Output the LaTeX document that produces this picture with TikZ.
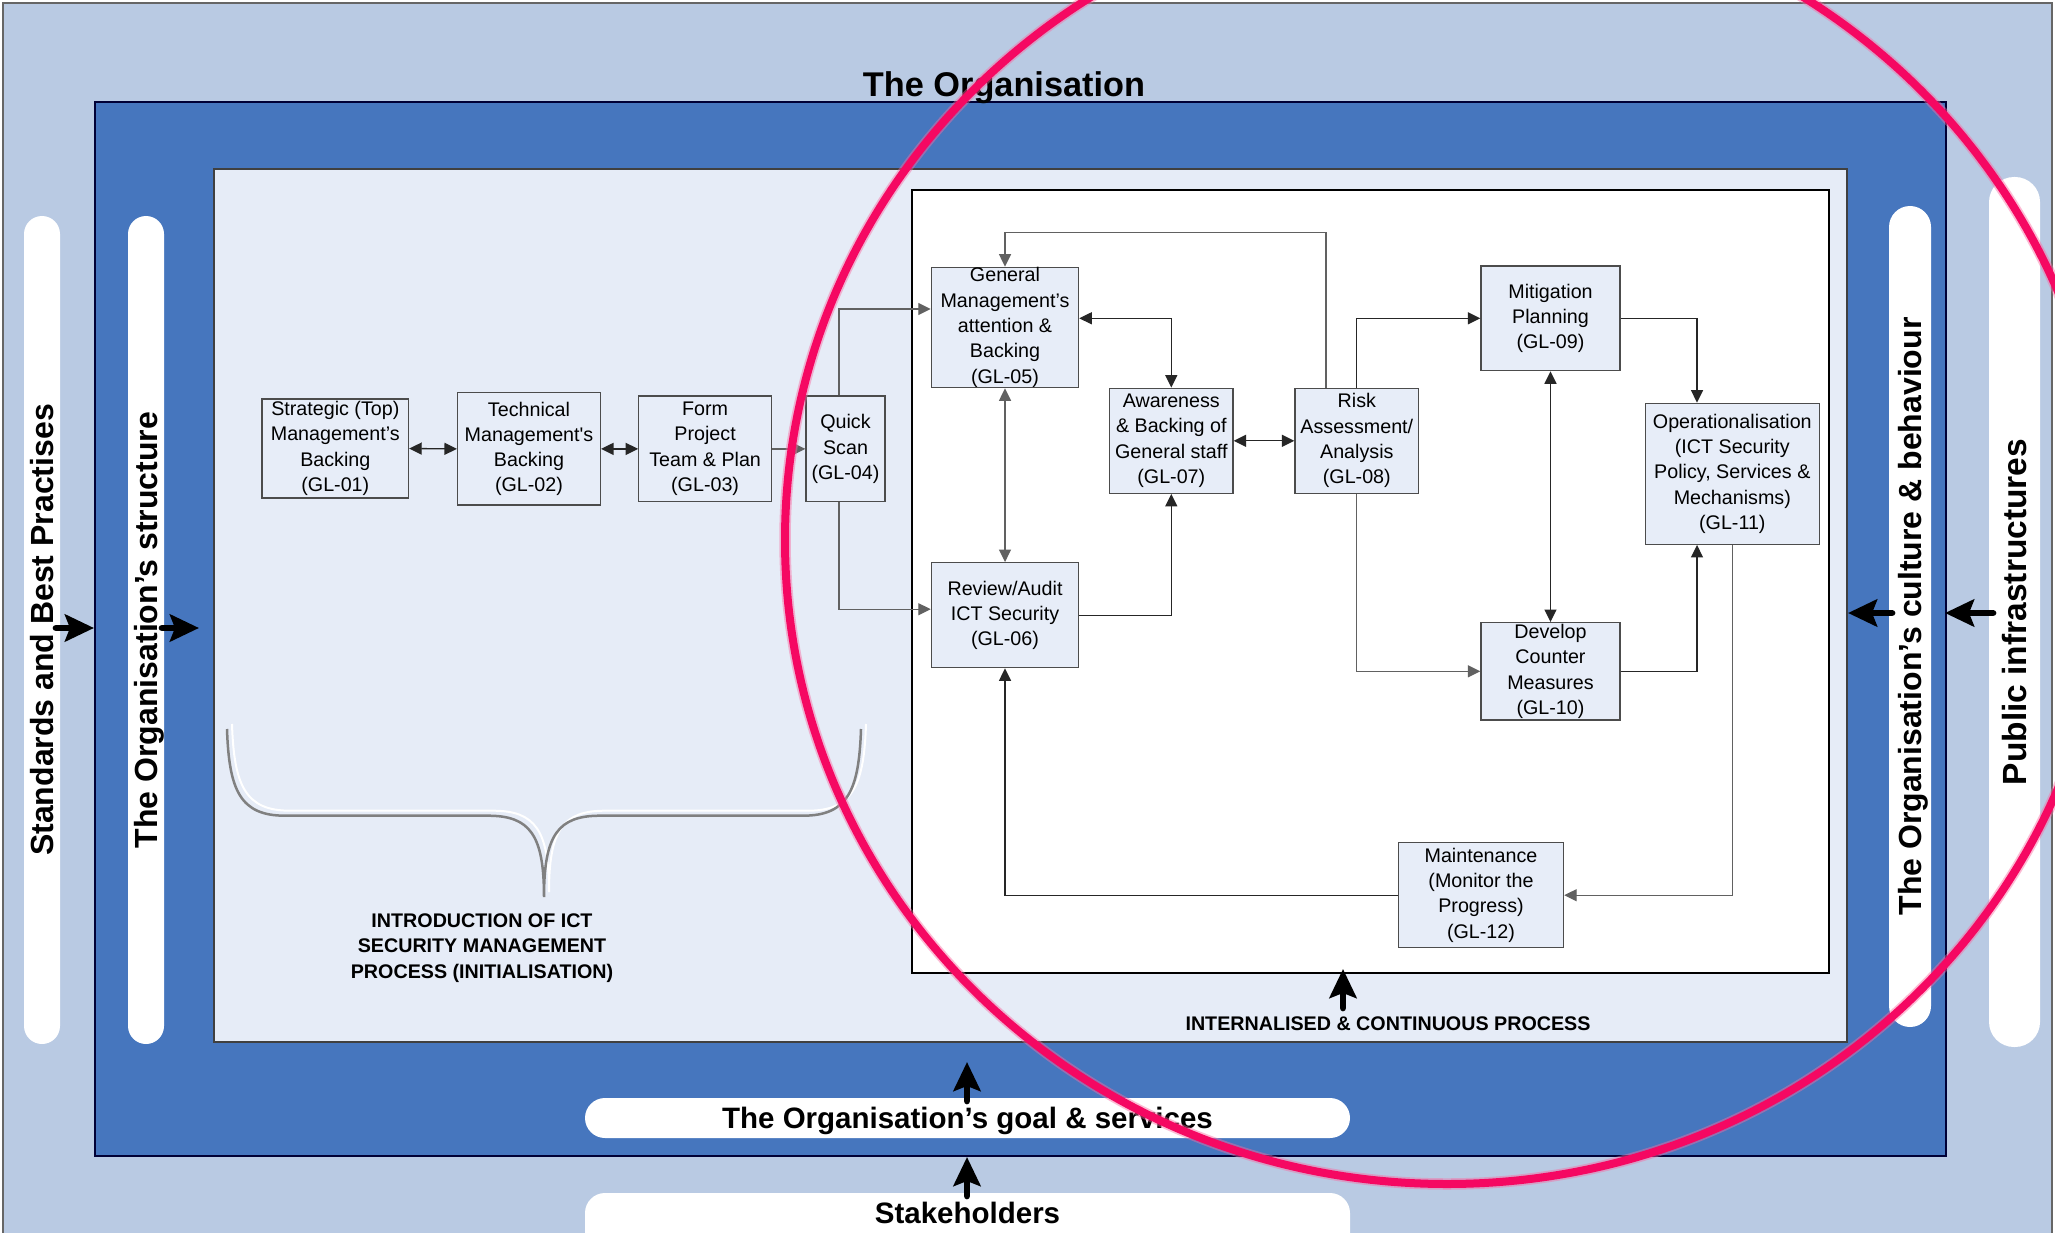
\documentclass[tikz,border=0pt]{standalone}
\usepackage{fontspec}
\setmainfont{Liberation Sans}
\newfontfamily\plainsans{Liberation Sans}
\usetikzlibrary{arrows.meta}

\definecolor{outerblue}{RGB}{185,202,227}
\definecolor{midblue}{RGB}{70,118,190}
\definecolor{paleblue}{RGB}{230,236,247}
\definecolor{boxfill}{RGB}{231,237,248}
\definecolor{ringpink}{RGB}{245,8,98}
\definecolor{bracegray}{RGB}{128,128,128}

\newcommand\gbfont{\fontsize{19.7}{25.3}\selectfont}
\newcommand\lblfont{\fontsize{19.7}{25.2}\selectfont\bfseries}
\newcommand\pillfont{\fontsize{32}{36}\selectfont\bfseries}
\newcommand\hpillfont{\fontsize{29.5}{34}\selectfont\bfseries}
\newcommand\ttlfont{\fontsize{34.3}{40}\selectfont\bfseries}

\begin{document}
\begin{tikzpicture}[x=1pt,y=-1pt,
  gbox/.style={draw=black!70, line width=1.3, fill=boxfill, inner sep=0pt,
    align=center, font=\gbfont},
  conn/.style={line width=1.3, draw=black!85, -{Triangle[length=12.5pt,width=12pt]}},
  biconn/.style={conn, {Triangle[length=12.5pt,width=12pt]}-{Triangle[length=12.5pt,width=12pt]}},
  grayline/.style={draw=black!62},
  bigarr/.style={line width=6.7, line cap=round, -{Stealth[length=29pt,width=27pt,inset=5pt]}},
  vpill/.style={fill=white, inner sep=0pt, rotate=90, font=\pillfont,
    text height=23pt, text depth=0pt},
  hpill/.style={fill=white, inner sep=0pt, rounded corners=20, font=\hpillfont,
    text height=21pt},
]
\useasboundingbox (0,0) rectangle (2055,1233);
\clip (0,0) rectangle (2055,1233);

% nested frames
\fill[white] (0,0) rectangle (2055,1233);
\draw[fill=outerblue, draw=black!60, line width=2] (3,3) rectangle (2052,1245);
\draw[fill=midblue, draw=black!65!blue!60!black, line width=1.5] (95,102) rectangle (1946,1156);
\draw[fill=paleblue, draw=black!75, line width=1.5] (214,169) rectangle (1847,1042);
\draw[fill=white, draw=black, line width=2] (912,190) rectangle (1829,973);

\node[font=\ttlfont, anchor=base] (title) at (1004,97) {The Organisation};

% side and bottom bands
\node[vpill, rounded corners=18, minimum width=828, minimum height=36] (p1) at (42,630) {Standards and Best Practises};
\node[vpill, rounded corners=18, minimum width=828, minimum height=36] (p2) at (146,630) {The Organisation’s structure};
\node[vpill, rounded corners=21, minimum width=821, minimum height=42] (p3) at (1910,616.5) {The Organisation’s culture \& behaviour};
\node[vpill, rounded corners=25, minimum width=870, minimum height=51, font=\fontsize{33.5}{38}\selectfont\bfseries] (p4) at (2014.5,612) {Public infrastructures};
\node[hpill, minimum width=765, minimum height=40, text depth=0pt] (goal) at (967.5,1118) {The Organisation’s goal \& services};
\node[hpill, minimum width=765, minimum height=60, text depth=20pt] (stake) at (967.5,1223) {Stakeholders};

% initialisation steps
\node[gbox, minimum width=146.5, minimum height=99] (g01) at (335.3,448.5) {Strategic (Top)\\Management’s\\Backing\\(GL-01)};
\node[gbox, minimum width=142.8, minimum height=112.3] (g02) at (529,448.9) {Technical\\Management{\plainsans '}s\\Backing\\(GL-02)};
\node[gbox, minimum width=132.6, minimum height=105.7] (g03) at (705.1,448.9) {Form\\Project\\Team \& Plan\\(GL-03)};
\node[gbox, minimum width=79, minimum height=105.7] (q04) at (845.5,448.9) {Quick\\Scan\\(GL-04)};

% continuous process steps
\node[gbox, minimum width=147.2, minimum height=120.4] (g05) at (1005,327.5) {General\\Management’s\\attention \&\\Backing\\(GL-05)};
\node[gbox, minimum width=147.2, minimum height=105] (g06) at (1005,615.2) {Review/Audit\\ICT Security\\(GL-06)};
\node[gbox, minimum width=123.4, minimum height=105] (g07) at (1171.3,440.8) {Awareness\\\& Backing of\\General staff\\(GL-07)};
\node[gbox, minimum width=123.6, minimum height=105] (g08) at (1356.8,440.8) {Risk\\Assessment/\\Analysis\\(GL-08)};
\node[gbox, minimum width=139, minimum height=104.7] (g09) at (1550.5,318.3) {Mitigation\\Planning\\(GL-09)};
\node[gbox, minimum width=139, minimum height=97.3] (g10) at (1550.5,671.3) {Develop\\Counter\\Measures\\(GL-10)};
\node[gbox, minimum width=173.9, minimum height=141] (g11) at (1732.3,473.8) {Operationalisation\\(ICT Security\\Policy, Services \&\\Mechanisms)\\(GL-11)};
\node[gbox, minimum width=165.1, minimum height=105] (g12) at (1481,895.2) {Maintenance\\(Monitor the\\Progress)\\(GL-12)};

% connectors
\draw[biconn] (g01.east) -- (g02.west);
\draw[biconn] (g02.east) -- (g03.west);
\draw[conn, grayline] (g03.east) -- (q04.west);
\draw[conn, grayline] ([xshift=-6.5pt]q04.north) |- ([yshift=18.5pt]g05.west);
\draw[conn, grayline] ([xshift=-6.5pt]q04.south) |- ([yshift=6pt]g06.west);
\draw[biconn] ([yshift=9.2pt]g05.east) -| (g07.north);
\draw[biconn, grayline] (g05.south) -- (g06.north);
\draw[conn] (g06.east) -| (g07.south);
\draw[biconn] (g07.east) -- (g08.west);
\draw[conn, grayline] ([xshift=-30.8pt]g08.north) -- ++(0,-155.3) -| (g05.north);
\draw[conn] (g08.north) |- (g09.west);
\draw[conn, grayline] (g08.south) |- (g10.west);
\draw[biconn] (g09.south) -- (g10.north);
\draw[conn] (g09.east) -| ([xshift=-35.3pt]g11.north);
\draw[conn] (g10.east) -| ([xshift=-35.3pt]g11.south);
\draw[conn, grayline] (g11.south) |- (g12.east);
\draw[conn] (g12.west) -| (g06.south);

% brace over the initialisation steps
\begin{scope}[shift={(5,-5)}]
\draw[white, line width=2]
  (227,729) .. controls (229,790) and (240,815.7) .. (285,815.7) -- (488,815.7)
  .. controls (530,815.7) and (544,835) .. (544,897)
  .. controls (544,835) and (558,815.7) .. (600,815.7) -- (803,815.7)
  .. controls (848,815.7) and (859,790) .. (861,729);
\end{scope}
\draw[bracegray, line width=2.5]
  (227,729) .. controls (229,790) and (240,815.7) .. (285,815.7) -- (488,815.7)
  .. controls (530,815.7) and (544,835) .. (544,897)
  .. controls (544,835) and (558,815.7) .. (600,815.7) -- (803,815.7)
  .. controls (848,815.7) and (859,790) .. (861,729);

\node[font=\lblfont, align=center] (intro) at (482,948) {INTRODUCTION OF ICT\\SECURITY MANAGEMENT\\PROCESS (INITIALISATION)};
\node[font=\lblfont, anchor=base] (cont) at (1388,1030.7) {INTERNALISED \& CONTINUOUS PROCESS};

% influence arrows
\coordinate (a1s) at (56,628);    \coordinate (a1e) at (94,628);
\coordinate (a2s) at (162,628);   \coordinate (a2e) at (199,628);
\coordinate (a3s) at (1892,613);  \coordinate (a3e) at (1848,613);
\coordinate (a4s) at (1993,613);  \coordinate (a4e) at (1945,613);
\coordinate (a5s) at (967,1101);  \coordinate (a5e) at (967,1062);
\coordinate (a6s) at (967,1196);  \coordinate (a6e) at (967,1157);
\coordinate (a7s) at (1343,1008); \coordinate (a7e) at (1343,969);
\foreach \k in {1,...,7} {\draw[bigarr] (a\k s) -- (a\k e);}

% highlight ring
\draw[ringpink!60, opacity=0.45, line width=11.5] (1447,540) ellipse [x radius=662pt, y radius=644pt];
\draw[ringpink, line width=8] (1447,540) ellipse [x radius=662pt, y radius=644pt];
\end{tikzpicture}
\end{document}
